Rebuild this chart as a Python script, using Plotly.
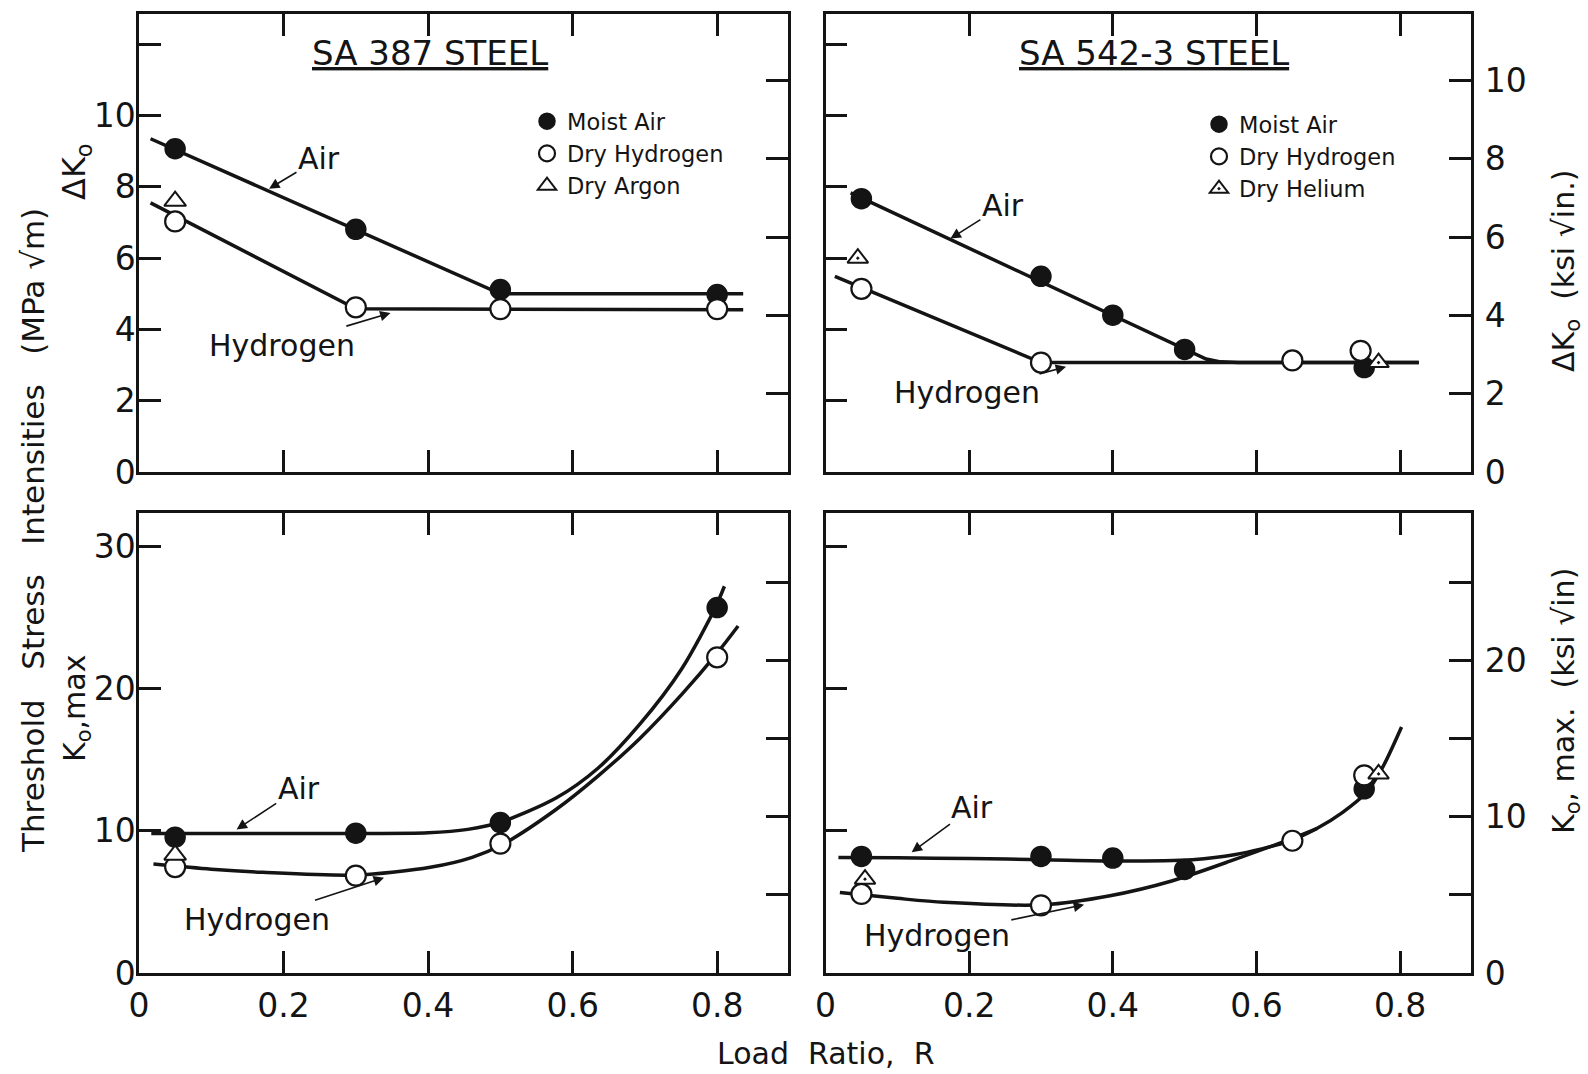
import plotly.graph_objects as go

# ---------------- data ----------------
MPA_PER_KSI = 1.0988           # 1 ksi*sqrt(in) = 1.0988 MPa*sqrt(m)
R_RANGE = [0, 0.898]
DK_RANGE = [0, 12.85]          # MPa sqrt(m)
KMAX_RANGE = [0, 32.35]        # MPa sqrt(m)

x_tickvals = [0, 0.2, 0.4, 0.6, 0.8]
x_ticktext = ["0", "0.2", "0.4", "0.6", "0.8"]

# SA 387 steel, Delta K_o (MPa sqrt m)
sa387_dk_air_R = [0.05, 0.3, 0.5, 0.8]
sa387_dk_air = [9.07, 6.81, 5.12, 4.98]
sa387_dk_h2_R = [0.05, 0.3, 0.5, 0.8]
sa387_dk_h2 = [7.03, 4.62, 4.57, 4.57]
sa387_dk_ar_R = [0.05]
sa387_dk_ar = [7.6]
sa387_dk_airfit_R = [0.016, 0.5, 0.836]
sa387_dk_airfit = [9.35, 5.0, 5.0]
sa387_dk_h2fit_R = [0.016, 0.3, 0.836]
sa387_dk_h2fit = [7.55, 4.58, 4.55]

# SA 542-3 steel, Delta K_o
sa542_dk_air_R = [0.05, 0.3, 0.4, 0.5, 0.75]
sa542_dk_air = [7.67, 5.49, 4.40, 3.44, 2.93]
sa542_dk_h2_R = [0.05, 0.3, 0.65, 0.745]
sa542_dk_h2 = [5.14, 3.07, 3.13, 3.40]
sa542_dk_he_R = [0.045, 0.77]
sa542_dk_he = [6.0, 3.07]
sa542_dk_airfit_R = [0.035, 0.512, 0.53, 0.55, 0.575, 0.826]
sa542_dk_airfit = [7.83, 3.33, 3.17, 3.09, 3.07, 3.07]
sa542_dk_h2fit_R = [0.013, 0.3, 0.826]
sa542_dk_h2fit = [5.49, 3.07, 3.07]

# SA 387 steel, K_o,max
sa387_km_air_R = [0.05, 0.3, 0.5, 0.8]
sa387_km_air = [9.55, 9.83, 10.58, 25.7]
sa387_km_h2_R = [0.05, 0.3, 0.5, 0.8]
sa387_km_h2 = [7.45, 6.85, 9.1, 22.2]
sa387_km_ar_R = [0.05]
sa387_km_ar = [8.3]
sa387_km_airfit_R = [0.017, 0.1, 0.2, 0.3, 0.4, 0.455, 0.5, 0.577, 0.635, 0.693, 0.751, 0.797, 0.81]
sa387_km_airfit = [9.81, 9.81, 9.81, 9.81, 9.86, 10.1, 10.6, 12.3, 14.4, 17.5, 21.4, 25.65, 27.2]
sa387_km_h2fit_R = [0.02, 0.1, 0.171, 0.3, 0.403, 0.461, 0.504, 0.577, 0.635, 0.693, 0.751, 0.8, 0.829]
sa387_km_h2fit = [7.66, 7.3, 7.08, 6.89, 7.43, 8.13, 9.07, 11.5, 13.85, 16.5, 19.6, 22.5, 24.4]

# SA 542-3 steel, K_o,max
sa542_km_air_R = [0.05, 0.3, 0.4, 0.5, 0.75]
sa542_km_air = [8.2, 8.2, 8.08, 7.28, 12.95]
sa542_km_h2_R = [0.05, 0.3, 0.65, 0.75]
sa542_km_h2 = [5.56, 4.76, 9.3, 13.9]
sa542_km_he_R = [0.055, 0.77]
sa542_km_he = [6.6, 14.0]
sa542_km_airfit_R = [0.018, 0.1, 0.2, 0.304, 0.405, 0.511, 0.569, 0.644, 0.684, 0.72, 0.753, 0.776, 0.802]
sa542_km_airfit = [8.13, 8.1, 8.05, 7.97, 7.88, 7.97, 8.31, 9.24, 10.16, 11.3, 12.7, 14.5, 17.3]
sa542_km_h2fit_R = [0.02, 0.1, 0.165, 0.304, 0.396, 0.482, 0.569, 0.65, 0.684]
sa542_km_h2fit = [5.66, 5.25, 4.97, 4.80, 5.43, 6.47, 7.97, 9.47, 10.16]

# ---------------- styling ----------------
W, H = 1588, 1074
FONT = "DejaVu Sans"
INK = "#141414"
LINE_W = 3.5
AX_W = 2.5
TICKLEN = 22
MSIZE = 20

fig = go.Figure()

def px_x(px):
    return px / W

def px_y(py):
    return 1 - py / H

dom_x_left = [px_x(139), px_x(788)]
dom_x_right = [px_x(825.5), px_x(1470.5)]
dom_y_top = [px_y(472), px_y(14)]
dom_y_bot = [px_y(973), px_y(513)]

def fit_line(xs, ys, xa, ya, shape):
    fig.add_trace(go.Scatter(x=xs, y=ys, xaxis=xa, yaxis=ya, mode="lines",
                             line=dict(color=INK, width=LINE_W, shape=shape, smoothing=0.8),
                             showlegend=False, hoverinfo="skip"))

def pts(xs, ys, xa, ya, kind, name=None, legend=None):
    if kind == "air":
        marker = dict(symbol="circle", size=MSIZE, color=INK, line=dict(color=INK, width=1.5))
    elif kind == "h2":
        marker = dict(symbol="circle", size=MSIZE, color="white", line=dict(color=INK, width=2.2))
    elif kind == "ar":
        marker = dict(symbol="triangle-up", size=MSIZE - 1, color="white", line=dict(color=INK, width=2))
    else:
        marker = dict(symbol="triangle-up-dot", size=MSIZE - 2, color="white", line=dict(color=INK, width=2))
    fig.add_trace(go.Scatter(x=xs, y=ys, xaxis=xa, yaxis=ya, mode="markers", marker=marker,
                             name=name or kind, showlegend=legend is not None,
                             legend=legend or "legend", hoverinfo="skip"))

# top-left
fit_line(sa387_dk_airfit_R, sa387_dk_airfit, "x", "y", "linear")
fit_line(sa387_dk_h2fit_R, sa387_dk_h2fit, "x", "y", "linear")
pts(sa387_dk_air_R, sa387_dk_air, "x", "y", "air", "Moist Air", "legend")
pts(sa387_dk_h2_R, sa387_dk_h2, "x", "y", "h2", "Dry Hydrogen", "legend")
pts(sa387_dk_ar_R, sa387_dk_ar, "x", "y", "ar", "Dry Argon", "legend")
# top-right
fit_line(sa542_dk_airfit_R, sa542_dk_airfit, "x2", "y2", "linear")
fit_line(sa542_dk_h2fit_R, sa542_dk_h2fit, "x2", "y2", "linear")
pts(sa542_dk_air_R, sa542_dk_air, "x2", "y2", "air", "Moist Air", "legend2")
pts(sa542_dk_h2_R, sa542_dk_h2, "x2", "y2", "h2", "Dry Hydrogen", "legend2")
pts(sa542_dk_he_R, sa542_dk_he, "x2", "y2", "he", "Dry Helium", "legend2")
# bottom-left
fit_line(sa387_km_airfit_R, sa387_km_airfit, "x3", "y3", "spline")
fit_line(sa387_km_h2fit_R, sa387_km_h2fit, "x3", "y3", "spline")
pts(sa387_km_air_R, sa387_km_air, "x3", "y3", "air")
pts(sa387_km_h2_R, sa387_km_h2, "x3", "y3", "h2")
pts(sa387_km_ar_R, sa387_km_ar, "x3", "y3", "ar")
# bottom-right
fit_line(sa542_km_airfit_R, sa542_km_airfit, "x4", "y4", "spline")
fit_line(sa542_km_h2fit_R, sa542_km_h2fit, "x4", "y4", "spline")
pts(sa542_km_air_R, sa542_km_air, "x4", "y4", "air")
pts(sa542_km_h2_R, sa542_km_h2, "x4", "y4", "h2")
pts(sa542_km_he_R, sa542_km_he, "x4", "y4", "he")

# dummy traces so the right-hand (ksi) axes exist
for xa, ya in [("x", "y5"), ("x2", "y6"), ("x3", "y7"), ("x4", "y8")]:
    fig.add_trace(go.Scatter(x=[None], y=[None], xaxis=xa, yaxis=ya, showlegend=False, hoverinfo="skip"))

tickfont = dict(family=FONT, size=33, color=INK)

def xaxis(domain, anchor, labels):
    return dict(domain=domain, anchor=anchor, range=R_RANGE, tickmode="array",
                tickvals=x_tickvals, ticktext=x_ticktext, showticklabels=labels,
                ticks="inside", ticklen=TICKLEN, tickwidth=AX_W, tickcolor=INK,
                showline=True, linewidth=AX_W, linecolor=INK, mirror="ticks",
                showgrid=False, zeroline=False, tickfont=tickfont, ticklabelstandoff=2,
                automargin=False)

def yaxis(domain, anchor, rng, vals, text, labels):
    return dict(domain=domain, anchor=anchor, range=rng, tickmode="array",
                tickvals=vals, ticktext=text, showticklabels=labels,
                ticks="inside", ticklen=TICKLEN, tickwidth=AX_W, tickcolor=INK,
                showline=True, linewidth=AX_W, linecolor=INK, mirror=True,
                showgrid=False, zeroline=False, tickfont=tickfont, ticklabelstandoff=-6,
                automargin=False)

def yaxis_r(over, anchor, rng, vals, text, labels):
    return dict(overlaying=over, anchor=anchor, side="right", range=rng, tickmode="array",
                tickvals=vals, ticktext=text, showticklabels=labels,
                ticks="inside", ticklen=TICKLEN, tickwidth=AX_W, tickcolor=INK,
                showline=True, linewidth=AX_W, linecolor=INK,
                showgrid=False, zeroline=False, tickfont=tickfont, ticklabelstandoff=5,
                automargin=False)

dk_ksi = [DK_RANGE[0] / MPA_PER_KSI, DK_RANGE[1] / MPA_PER_KSI]
km_ksi = [KMAX_RANGE[0] / MPA_PER_KSI, KMAX_RANGE[1] / MPA_PER_KSI]

fig.update_layout(
    xaxis=xaxis(dom_x_left, "y", False),
    xaxis2=xaxis(dom_x_right, "y2", False),
    xaxis3=xaxis(dom_x_left, "y3", True),
    xaxis4=xaxis(dom_x_right, "y4", True),
    yaxis=yaxis(dom_y_top, "x", DK_RANGE, [0, 2, 4, 6, 8, 10, 12],
                ["0", "2", "4", "6", "8", "10", ""], True),
    yaxis2=yaxis(dom_y_top, "x2", DK_RANGE, [2, 4, 6, 8, 10, 12], [""] * 6, False),
    yaxis3=yaxis(dom_y_bot, "x3", KMAX_RANGE, [0, 10, 20, 30], ["0", "10", "20", "30"], True),
    yaxis4=yaxis(dom_y_bot, "x4", KMAX_RANGE, [10, 20, 30], [""] * 3, False),
    yaxis5=yaxis_r("y", "x", dk_ksi, [2, 4, 6, 8, 10], [""] * 5, False),
    yaxis6=yaxis_r("y2", "x2", dk_ksi, [0, 2, 4, 6, 8, 10], ["0", "2", "4", "6", "8", "10"], True),
    yaxis7=yaxis_r("y3", "x3", km_ksi, [5, 10, 15, 20, 25], [""] * 5, False),
    yaxis8=yaxis_r("y4", "x4", km_ksi, [0, 5, 10, 15, 20, 25], ["0", "", "10", "", "20", ""], True),
)

legfont = dict(family=FONT, size=22.5, color=INK)
fig.update_layout(
    legend=dict(x=px_x(527), y=px_y(100), xanchor="left", yanchor="top",
                bgcolor="rgba(0,0,0,0)", font=legfont, itemsizing="trace",
                tracegroupgap=0, borderwidth=0),
    legend2=dict(x=px_x(1199), y=px_y(103), xanchor="left", yanchor="top",
                 bgcolor="rgba(0,0,0,0)", font=legfont, itemsizing="trace",
                 tracegroupgap=0, borderwidth=0),
)

anns = []
labfont = dict(family=FONT, size=30, color=INK)

def label(text, xa, ya, tx, ty, hx, hy):
    anns.append(dict(text=text, xref=xa, yref=ya, x=hx, y=hy, axref=xa, ayref=ya,
                     ax=tx, ay=ty, showarrow=True, arrowhead=2, arrowsize=1.3,
                     arrowwidth=1.6, arrowcolor=INK, font=labfont, standoff=0))

label("Air", "x", "y", 0.249, 8.79, 0.18, 7.95)
label("Hydrogen", "x", "y", 0.198, 3.56, 0.348, 4.46)
label("Air", "x2", "y2", 0.247, 7.48, 0.174, 6.55)
label("Hydrogen", "x2", "y2", 0.1975, 2.22, 0.335, 2.95)
label("Air", "x3", "y3", 0.221, 12.97, 0.135, 10.1)
label("Hydrogen", "x3", "y3", 0.163, 3.78, 0.339, 6.7)
label("Air", "x4", "y4", 0.2046, 11.62, 0.12, 8.5)
label("Hydrogen", "x4", "y4", 0.155, 2.65, 0.36, 4.8)

titlefont = dict(family=FONT, size=34, color=INK, lineposition="under")
anns.append(dict(text="SA 387 STEEL", xref="x domain", yref="y domain", x=0.449, y=0.915,
                 xanchor="center", yanchor="middle", showarrow=False, font=titlefont))
anns.append(dict(text="SA 542-3 STEEL", xref="x2 domain", yref="y2 domain", x=0.51, y=0.915,
                 xanchor="center", yanchor="middle", showarrow=False, font=titlefont))

sq = "\u221a"
nb = "\u00a0"
def rot(text, px, py, size=30):
    return dict(text=text, xref="paper", yref="paper", x=px_x(px), y=px_y(py),
                xanchor="center", yanchor="middle", textangle=-90, showarrow=False,
                font=dict(family=FONT, size=size, color=INK))

anns += [
    rot(f"Threshold{nb*3}Stress{nb*3}Intensities{nb*3}(MPa{nb}{sq}m)", 33, 531, 31),
    rot("\u0394K<sub>o</sub>", 76, 172, 32),
    rot("K<sub>o</sub>,max", 76, 709, 30),
    rot(f"\u0394K<sub>o</sub>{nb*2}(ksi{nb}{sq}in.)", 1565, 271),
    rot(f"K<sub>o</sub>,{nb}max.{nb*2}(ksi{nb}{sq}in)", 1565, 701),
    dict(text=f"Load{nb*2}Ratio,{nb*2}R", xref="paper", yref="paper",
         x=px_x(826), y=px_y(1053), xanchor="center", yanchor="middle",
         showarrow=False, font=dict(family=FONT, size=30, color=INK)),
]

fig.update_layout(
    annotations=anns,
    width=W, height=H,
    margin=dict(l=0, r=0, t=0, b=0, autoexpand=False),
    paper_bgcolor="white", plot_bgcolor="white",
    font=dict(family=FONT, color=INK),
)

fig.write_html("out.html")
